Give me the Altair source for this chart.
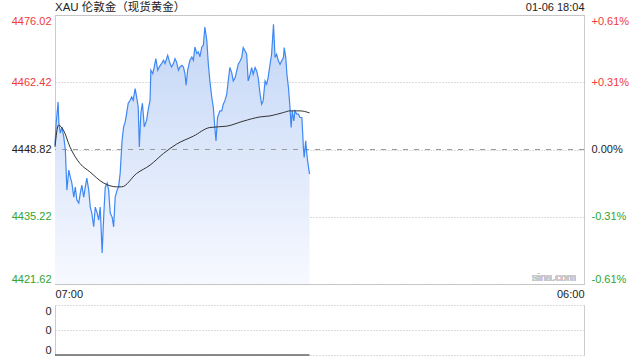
import altair as alt
import pandas as pd

# ---------------- data ----------------
title_text = "XAU 伦敦金（现货黄金）"
stamp_text = "01-06 18:04"
prev_close = 4448.82
session_start = "07:00"
session_len_min = 1380  # 07:00 -> 06:00 next day
x_tick_labels = ["07:00", "06:00"]
price_ticks = [4476.02, 4462.42, 4448.82, 4435.22, 4421.62]
pct_labels = ["+0.61%", "+0.31%", "0.00%", "-0.31%", "-0.61%"]

price_times = [
    "07:00", "07:03", "07:08", "07:10", "07:14", "07:18", "07:23", "07:27", "07:31", "07:36",
    "07:40", "07:44", "07:49", "07:53", "07:57", "08:02", "08:06", "08:10", "08:15", "08:19",
    "08:23", "08:28", "08:32", "08:36", "08:41", "08:45", "08:50", "08:54", "08:58", "09:03",
    "09:07", "09:11", "09:16", "09:20", "09:24", "09:29", "09:33", "09:37", "09:42", "09:46",
    "09:50", "09:55", "09:59", "10:03", "10:07", "10:11", "10:16", "10:20", "10:24", "10:29",
    "10:33", "10:37", "10:40", "10:44", "10:48", "10:53", "10:59", "11:03", "11:08", "11:10",
    "11:15", "11:19", "11:23", "11:28", "11:32", "11:38", "11:43", "11:47", "11:54", "12:00",
    "12:04", "12:09", "12:13", "12:17", "12:22", "12:26", "12:31", "12:35", "12:39", "12:42",
    "12:46", "12:52", "12:57", "13:01", "13:05", "13:10", "13:14", "13:18", "13:23", "13:27",
    "13:31", "13:36", "13:40", "13:44", "13:49", "13:53", "13:57", "14:00", "14:04", "14:10",
    "14:15", "14:19", "14:23", "14:28", "14:32", "14:36", "14:41", "14:45", "14:50", "14:54",
    "14:58", "15:03", "15:07", "15:11", "15:16", "15:20", "15:24", "15:29", "15:33", "15:37",
    "15:42", "15:46", "15:50", "15:55", "15:59", "16:03", "16:08", "16:12", "16:16", "16:21",
    "16:25", "16:30", "16:34", "16:38", "16:43", "16:47", "16:51", "16:56", "16:58", "17:02",
    "17:05", "17:09", "17:13", "17:16", "17:19", "17:23", "17:26", "17:31", "17:35", "17:39",
    "17:44", "17:48", "17:50", "17:54", "17:57", "17:59", "18:04",
]
price_values = [
    4449.70, 4454.08, 4458.44, 4454.14, 4452.12, 4453.33, 4451.31, 4448.69, 4440.61, 4444.65,
    4443.23, 4442.02, 4439.19, 4441.21, 4438.59, 4437.98, 4440.00, 4441.62, 4439.19, 4441.21,
    4443.03, 4440.61, 4437.17, 4435.96, 4433.19, 4437.17, 4435.96, 4434.55, 4437.17, 4427.88,
    4435.15, 4441.21, 4442.02, 4440.61, 4435.96, 4435.15, 4433.19, 4439.19, 4440.61, 4441.27,
    4444.04, 4450.71, 4453.39, 4454.34, 4456.16, 4458.18, 4458.79, 4459.45, 4458.79, 4461.15,
    4459.45, 4457.43, 4449.35, 4456.16, 4458.18, 4453.39, 4454.75, 4456.77, 4458.79, 4464.85,
    4464.18, 4465.52, 4467.21, 4464.85, 4465.52, 4466.20, 4466.87, 4466.20, 4467.88, 4466.20,
    4465.52, 4466.20, 4467.21, 4466.53, 4464.85, 4465.52, 4465.86, 4465.52, 4464.18, 4461.82,
    4464.85, 4466.87, 4467.54, 4466.87, 4469.56, 4468.22, 4468.55, 4467.54, 4469.56, 4469.90,
    4473.60, 4470.91, 4466.06, 4462.69, 4459.33, 4457.31, 4453.27, 4450.57, 4455.29, 4456.63,
    4456.63, 4457.98, 4458.65, 4460.00, 4462.69, 4465.39, 4464.38, 4462.69, 4463.37, 4464.71,
    4466.06, 4466.73, 4467.41, 4469.43, 4468.75, 4468.08, 4462.69, 4464.04, 4465.39, 4464.04,
    4465.39, 4464.71, 4463.37, 4460.00, 4457.98, 4458.65, 4462.69, 4462.02, 4463.37, 4466.06,
    4468.08, 4474.14, 4467.41, 4468.08, 4466.73, 4466.06, 4466.73, 4467.41, 4469.43, 4467.41,
    4464.04, 4461.35, 4457.31, 4453.27, 4456.63, 4454.61, 4456.63, 4455.96, 4455.96, 4455.29,
    4455.29, 4449.23, 4447.21, 4450.57, 4447.88, 4446.52, 4443.84,
]

avg_times = ["07:00", "07:09", "07:22", "07:39", "08:05", "08:31", "09:06", "09:41", "09:54",
             "10:33", "11:08", "11:43", "12:17", "13:01", "13:44", "14:28", "15:11", "15:55",
             "16:21", "16:56", "17:13", "17:39", "18:04"]
avg_values = [4449.35, 4453.74, 4452.73, 4449.35, 4446.00, 4444.30, 4442.08, 4441.27, 4441.27,
              4443.98, 4445.66, 4448.02, 4449.90, 4451.52, 4453.27, 4453.54, 4454.55, 4455.41,
              4455.62, 4456.30, 4456.63, 4456.63, 4456.22]

vol_times = ["07:00", "18:04"]
vol_values = [0, 0]
vol_ticks = [0, 0.5, 1]
vol_tick_labels = ["0", "0", "0"]

assert len(price_times) == len(price_values)
assert len(avg_times) == len(avg_values)


def to_min(t):
    h, m = map(int, t.split(":"))
    h0, m0 = map(int, session_start.split(":"))
    d = (h * 60 + m) - (h0 * 60 + m0)
    return d if d >= 0 else d + 1440


price_df = pd.DataFrame({"m": [to_min(t) for t in price_times], "p": price_values})
avg_df = pd.DataFrame({"m": [to_min(t) for t in avg_times], "a": avg_values})
vol_df = pd.DataFrame({"m": [to_min(t) for t in vol_times], "v": vol_values})

# ---------------- style ----------------
FONT = "Liberation Sans, Arial, Noto Sans CJK SC, sans-serif"
RED = "#f03a3a"
GREEN = "#2ea52e"
DARK = "#222222"
BLUE = "#3f88f2"
GRID = "#b8b8b8"
BORDER = "#cccccc"
LEFT_EXT = 44

W, H_TOP, H_BOT = 529, 269, 50


def expr_map(vals, labels):
    parts = [f"abs(datum.value - {v}) < 0.001 ? '{l}' : " for v, l in zip(vals, labels)]
    return "".join(parts) + "''"


x_scale = alt.Scale(domain=[0, session_len_min], nice=False, zero=False)
y_scale = alt.Scale(domain=[price_ticks[-1], price_ticks[0]], nice=False, zero=False)

label_color = {
    "condition": [
        {"test": f"datum.value > {prev_close} + 0.01", "value": RED},
        {"test": f"datum.value < {prev_close} - 0.01", "value": GREEN},
    ],
    "value": DARK,
}

x_axis_bottom = alt.Axis(
    orient="bottom", values=[0, session_len_min],
    labelExpr=expr_map([0, session_len_min], x_tick_labels),
    labelFlush=True, ticks=False, domain=False, grid=False, title=None,
    labelPadding=4, labelColor=DARK, labelFontSize=11, labelFont=FONT,
)
x_axis_top = alt.Axis(
    orient="top", labels=False, ticks=False, domain=False, grid=False,
    title=stamp_text, titleAnchor="end", titleAlign="right", titleFontWeight="normal",
    titleFontSize=11, titleFont=FONT, titleColor=DARK, titlePadding=3,
)
y_axis_left = alt.Axis(
    orient="left", values=price_ticks, format=".2f", labelFlush=True, ticks=False,
    domain=False, grid=True, gridDash=[1, 2], gridColor=GRID, title=None, labelPadding=4,
    labelColor=label_color, labelFontSize=11, labelFont=FONT,
    minExtent=LEFT_EXT, maxExtent=LEFT_EXT,
)
y_axis_right = alt.Axis(
    orient="right", values=price_ticks, labelExpr=expr_map(price_ticks, pct_labels),
    labelFlush=True, ticks=False, domain=False, grid=False, title=None, labelPadding=7,
    labelColor=label_color, labelFontSize=11, labelFont=FONT,
)

gradient = alt.Gradient(
    gradient="linear",
    stops=[alt.GradientStop(color="#c3d6f6", offset=0),
           alt.GradientStop(color="#f7f9ff", offset=1)],
    x1=0, x2=0, y1=0, y2=1,
)

area = alt.Chart(price_df).mark_area(color=gradient).encode(
    x=alt.X("m:Q", scale=x_scale, axis=x_axis_bottom),
    y=alt.Y("p:Q", scale=y_scale, axis=y_axis_left),
    y2=alt.datum(price_ticks[-1]),
)
prev_rule = alt.Chart(price_df).mark_rule(color="#9a9a9a", strokeDash=[5, 6], strokeWidth=1).encode(
    y=alt.YDatum(prev_close, axis=None),
)
price_line = alt.Chart(price_df).mark_line(color=BLUE, strokeWidth=1.2).encode(
    x=alt.X("m:Q", scale=x_scale, axis=None),
    y=alt.Y("p:Q", scale=y_scale, axis=None),
)
avg_line = alt.Chart(avg_df).mark_line(color="#333333", strokeWidth=1, interpolate="monotone").encode(
    x=alt.X("m:Q", scale=x_scale, axis=x_axis_top),
    y=alt.Y("a:Q", scale=y_scale, axis=y_axis_right),
)
watermark = alt.Chart(price_df).mark_text(
    text="sina.com", align="right", baseline="bottom", dx=-8, dy=-1,
    color="#c8c8c8", fontSize=11, font=FONT,
).encode(
    x=alt.XDatum(session_len_min, axis=None),
    y=alt.YDatum(price_ticks[-1], axis=None),
)

top = alt.layer(area, prev_rule, price_line, avg_line, watermark).properties(
    width=W, height=H_TOP,
    title=alt.TitleParams(title_text, anchor="start", frame="group", fontSize=11.5,
                          font=FONT, fontWeight="normal", color=DARK, offset=-12),
    view=alt.ViewBackground(stroke=BORDER),
)

vol_scale = alt.Scale(domain=[0, 1], nice=False, zero=False)
vol_axis_left = alt.Axis(
    orient="left", values=vol_ticks, labelExpr=expr_map(vol_ticks, vol_tick_labels),
    labelFlush=True, ticks=False, domain=True, domainColor=BORDER, grid=True,
    gridDash=[1, 2], gridColor=GRID, title=None, labelPadding=4, labelColor=DARK,
    labelFontSize=11, labelFont=FONT, minExtent=LEFT_EXT, maxExtent=LEFT_EXT,
)
vol_axis_right = alt.Axis(
    orient="right", labels=False, ticks=False, domain=True, domainColor=BORDER,
    grid=False, title=None,
)
vol_line = alt.Chart(vol_df).mark_line(color="#666666", strokeWidth=1.5).encode(
    x=alt.X("m:Q", scale=x_scale, axis=None),
    y=alt.Y("v:Q", scale=vol_scale, axis=vol_axis_left),
)
vol_frame = alt.Chart(vol_df).mark_line(opacity=0).encode(
    x=alt.X("m:Q", scale=x_scale, axis=None),
    y=alt.Y("v:Q", scale=vol_scale, axis=vol_axis_right),
)
bottom = alt.layer(vol_line, vol_frame).properties(
    width=W, height=H_BOT,
    view=alt.ViewBackground(stroke="transparent"),
)

chart = alt.vconcat(top, bottom, spacing=4).properties(
    padding={"left": 10, "top": 0, "right": 4, "bottom": 2},
    background="white",
).configure_view(strokeWidth=1)

chart.save("out.html", embed_options={"renderer": "svg", "actions": False})
